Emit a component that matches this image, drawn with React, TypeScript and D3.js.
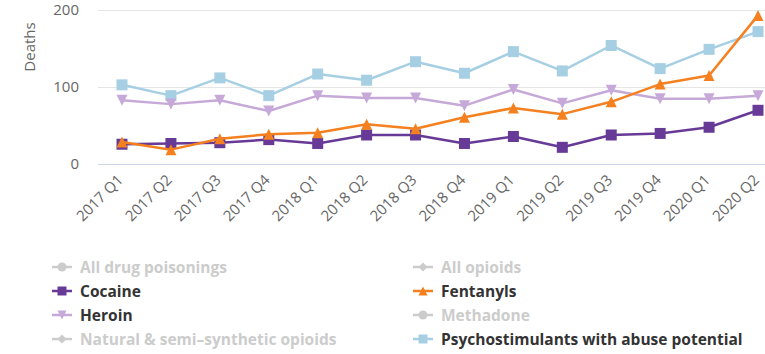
import React, { useEffect, useRef } from "react";
import * as d3 from "d3";

const quarters = [
  "2017 Q1", "2017 Q2", "2017 Q3", "2017 Q4",
  "2018 Q1", "2018 Q2", "2018 Q3", "2018 Q4",
  "2019 Q1", "2019 Q2", "2019 Q3", "2019 Q4",
  "2020 Q1", "2020 Q2",
];
const cocaine = [26, 27, 28, 32, 27, 38, 38, 27, 36, 22, 38, 40, 48, 70];
const fentanyls = [29, 19, 33, 39, 41, 52, 46, 61, 73, 65, 81, 104, 115, 193];
const heroin = [83, 78, 83, 69, 89, 86, 86, 76, 97, 79, 96, 85, 85, 89];
const psychostimulants = [103, 89, 112, 89, 117, 109, 133, 118, 146, 121, 154, 124, 149, 172];
const yTicks = [0, 100, 200];

const legendItems = [
  { name: "All drug poisonings", visible: false, symbol: "circle", color: "#cccccc" },
  { name: "All opioids", visible: false, symbol: "diamond", color: "#cccccc" },
  { name: "Cocaine", visible: true, symbol: "square", color: "#663a96" },
  { name: "Fentanyls", visible: true, symbol: "triangle", color: "#f4801f" },
  { name: "Heroin", visible: true, symbol: "triangle-down", color: "#c6a9d8" },
  { name: "Methadone", visible: false, symbol: "circle", color: "#cccccc" },
  { name: "Natural & semi–synthetic opioids", visible: false, symbol: "diamond", color: "#cccccc" },
  { name: "Psychostimulants with abuse potential", visible: true, symbol: "square", color: "#a6cfe4" },
];

const series = [
  { name: "Psychostimulants with abuse potential", values: psychostimulants, color: "#a6cfe4", symbol: "square" },
  { name: "Heroin", values: heroin, color: "#c6a9d8", symbol: "triangle-down" },
  { name: "Cocaine", values: cocaine, color: "#663a96", symbol: "square" },
  { name: "Fentanyls", values: fentanyls, color: "#f4801f", symbol: "triangle" },
];

const font = "'Open Sans', sans-serif";

function markerPath(symbol: string, r: number) {
  if (symbol === "square") return `M${-r},${-r}h${2 * r}v${2 * r}h${-2 * r}Z`;
  if (symbol === "triangle") return `M0,${-r}L${r},${r}L${-r},${r}Z`;
  if (symbol === "triangle-down") return `M${-r},${-r}L${r},${-r}L0,${r}Z`;
  if (symbol === "diamond") return `M0,${-r}L${r},0L0,${r}L${-r},0Z`;
  return d3.arc()({ innerRadius: 0, outerRadius: r, startAngle: 0, endAngle: 2 * Math.PI }) as string;
}

export default function App() {
  const ref = useRef<SVGSVGElement>(null);

  useEffect(() => {
    const svg = d3.select(ref.current);
    svg.selectAll("*").remove();

    const x = d3.scalePoint().domain(quarters).range([122, 758]);
    const y = d3.scaleLinear().domain([0, 200]).range([164.3, 10]);

    // grid + y labels
    const grid = svg.append("g");
    yTicks.forEach((t) => {
      grid.append("line")
        .attr("x1", 98).attr("x2", 765)
        .attr("y1", Math.round(y(t)) + 0.5).attr("y2", Math.round(y(t)) + 0.5)
        .attr("stroke", t === 0 ? "#ccd6eb" : "#e6e6e6")
        .attr("stroke-width", 1);
      grid.append("text")
        .attr("x", 79).attr("y", y(t) + 5)
        .attr("text-anchor", "end")
        .attr("font-family", font).attr("font-size", 15)
        .attr("fill", "#666666")
        .text(t);
    });

    svg.append("text")
      .attr("transform", "translate(35,47) rotate(-90)")
      .attr("text-anchor", "middle")
      .attr("font-family", font).attr("font-size", 15)
      .attr("fill", "#666666")
      .text("Deaths");

    // x labels
    svg.append("g").selectAll("text").data(quarters).join("text")
      .attr("transform", (d) => `translate(${(x(d) as number) + 2},181) rotate(-45)`)
      .attr("text-anchor", "end")
      .attr("font-family", font).attr("font-size", 15)
      .attr("fill", "#666666")
      .text((d) => d);

    // lines
    const line = d3.line<number>()
      .x((_, i) => x(quarters[i]) as number)
      .y((d) => y(d));

    series.forEach((s) => {
      const g = svg.append("g");
      g.append("path")
        .attr("d", line(s.values))
        .attr("fill", "none")
        .attr("stroke", s.color)
        .attr("stroke-width", 2.5)
        .attr("stroke-linejoin", "round");
      g.selectAll("path.m").data(s.values).join("path")
        .attr("class", "m")
        .attr("transform", (d, i) => `translate(${x(quarters[i])},${y(d)})`)
        .attr("d", markerPath(s.symbol, 5.5))
        .attr("fill", s.color);
    });

    // legend
    const lg = svg.append("g");
    legendItems.forEach((item, i) => {
      const col = i % 2;
      const row = Math.floor(i / 2);
      const lx = col === 0 ? 52 : 413;
      const ly = 267 + row * 24;
      const g = lg.append("g").attr("transform", `translate(${lx},${ly})`);
      g.append("line")
        .attr("x1", 0).attr("x2", 20).attr("y1", 0).attr("y2", 0)
        .attr("stroke", item.color).attr("stroke-width", 2.5);
      g.append("path")
        .attr("transform", "translate(10,0)")
        .attr("d", markerPath(item.symbol, 4.5))
        .attr("fill", item.color);
      g.append("text")
        .attr("x", 28).attr("y", 5.5)
        .attr("font-family", font).attr("font-size", 15.5).attr("font-weight", "bold")
        .attr("fill", item.visible ? "#333333" : "#cccccc")
        .text(item.name);
    });
  }, []);

  return (
    <svg
      ref={ref}
      width={765}
      height={354}
      style={{ position: "absolute", left: 0, top: 0, background: "#ffffff" }}
    />
  );
}
